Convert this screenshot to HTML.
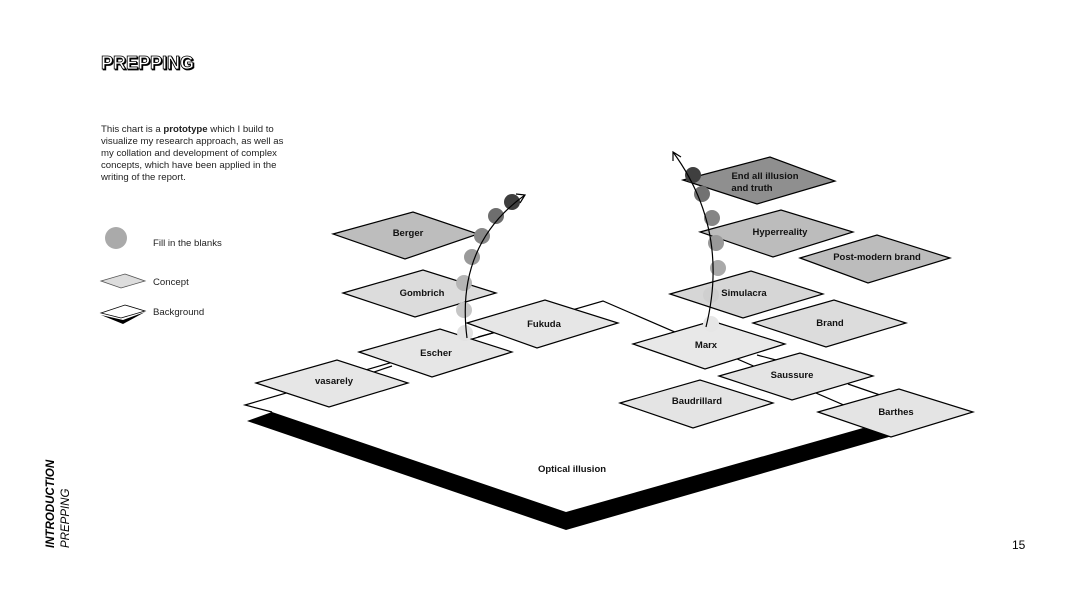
<!DOCTYPE html>
<html><head><meta charset="utf-8"><style>
html,body{margin:0;padding:0;background:#fff;}
body{width:1066px;height:600px;overflow:hidden;position:relative;font-family:"Liberation Sans",sans-serif;}
</style></head><body>
<svg width="1066" height="600" viewBox="0 0 1066 600" xmlns="http://www.w3.org/2000/svg" style="position:absolute;left:0;top:0">
<text x="101" y="69" font-family="Liberation Sans" font-weight="bold" font-size="18" fill="#000" stroke="#000" stroke-width="0.8" transform="translate(1,1)">PREPPING</text>
<text x="101" y="69" font-family="Liberation Sans" font-weight="bold" font-size="18" fill="#fff" stroke="#000" stroke-width="0.8">PREPPING</text>
<g font-family="Liberation Sans" font-size="9.6" fill="#222">
<text x="101" y="132">This chart is a <tspan font-weight="bold">prototype</tspan> which I build to</text>
<text x="101" y="144">visualize my research approach, as well as</text>
<text x="101" y="156">my collation and development of complex</text>
<text x="101" y="168">concepts, which have been applied in the</text>
<text x="101" y="180">writing of the report.</text>
<text x="153" y="246">Fill in the blanks</text>
<text x="153" y="285">Concept</text>
<text x="153" y="315">Background</text>
</g>
<circle cx="116" cy="238" r="11" fill="#aaa"/>
<polygon points="101,281 125,274 145,281 121,288" fill="#ddd" stroke="#555" stroke-width="0.8"/>
<polygon points="101,315 123,320 145,312 123,324" fill="#000"/>
<polygon points="101,313 125,305 145,311 121,318" fill="#fff" stroke="#000" stroke-width="0.8"/>

<!-- platform -->
<polygon points="245,405 603,301 890,425 566,512 272,412" fill="#fff"/>
<polyline points="272,412 245,405 603,301 890,425" fill="none" stroke="#000" stroke-width="1.2"/>
<polygon points="247,421 272,412 566,512 863,428 892,436 566,530" fill="#000"/>

<!-- connectors -->
<g stroke="#000" stroke-width="1.2">
<line x1="368" y1="374" x2="392" y2="366"/>
<line x1="478" y1="337" x2="500" y2="331"/>
<line x1="757" y1="355" x2="776" y2="360"/>
<line x1="848" y1="384" x2="880" y2="395"/>
</g>

<g stroke="#000" stroke-width="1.2">
<polygon points="333,234 413,212 478,234 405,259" fill="#bdbdbd"/>
<polygon points="343,293 423,270 496,293 415,317" fill="#dcdcdc"/>
<polygon points="467,323 545,300 618,323 537,348" fill="#e6e6e6"/>
<polygon points="359,352 440,329 512,352 432,377" fill="#e6e6e6"/>
<polygon points="256,383 337,360 408,383 329,407" fill="#e6e6e6"/>
<polygon points="683,180 770,157 835,181 757,204" fill="#8f8f8f"/>
<polygon points="700,232 781,210 853,232 773,257" fill="#bcbcbc"/>
<polygon points="800,258 877,235 950,258 868,283" fill="#bcbcbc"/>
<polygon points="670,294 751,271 823,294 743,318" fill="#d6d6d6"/>
<polygon points="753,323 834,300 906,323 826,347" fill="#dcdcdc"/>
<polygon points="633,344 712,321 785,344 705,369" fill="#e8e8e8"/>
<polygon points="719,376 800,353 873,376 792,400" fill="#e4e4e4"/>
<polygon points="620,403 700,380 773,403 693,428" fill="#e4e4e4"/>
<polygon points="818,412 899,389 973,412 891,437" fill="#e4e4e4"/>
</g>
<g font-family="Liberation Sans" font-weight="bold" font-size="9.5" fill="#111" text-anchor="middle">
<text x="408" y="236">Berger</text>
<text x="422" y="296">Gombrich</text>
<text x="544" y="327">Fukuda</text>
<text x="436" y="356">Escher</text>
<text x="334" y="384">vasarely</text>
<text x="765" y="179">End all illusion</text>
<text x="752" y="191">and truth</text>
<text x="780" y="235">Hyperreality</text>
<text x="877" y="260">Post-modern brand</text>
<text x="744" y="296">Simulacra</text>
<text x="830" y="326">Brand</text>
<text x="706" y="348">Marx</text>
<text x="792" y="378">Saussure</text>
<text x="697" y="404">Baudrillard</text>
<text x="896" y="415">Barthes</text>
<text x="572" y="472">Optical illusion</text>
</g>

<!-- left path -->
<circle cx="465" cy="333" r="8" fill="#e2e2e2"/>
<circle cx="464" cy="310" r="8" fill="#c6c6c6"/>
<circle cx="464" cy="283" r="8" fill="#b5b5b5"/>
<circle cx="472" cy="257" r="8" fill="#9a9a9a"/>
<circle cx="482" cy="236" r="8" fill="#888"/>
<circle cx="496" cy="216" r="8" fill="#6e6e6e"/>
<circle cx="512" cy="202" r="8" fill="#3e3e3e"/>
<path d="M467,338 Q455,245 525,195" fill="none" stroke="#000" stroke-width="1.2"/>
<path d="M516,194 L525,195 L520,203" fill="none" stroke="#000" stroke-width="1.2"/>

<!-- right path -->
<circle cx="711" cy="324" r="8" fill="#e6e6e6"/>
<circle cx="711" cy="295" r="8" fill="#cfcfcf"/>
<circle cx="718" cy="268" r="8" fill="#a9a9a9"/>
<circle cx="716" cy="243" r="8" fill="#999"/>
<circle cx="712" cy="218" r="8" fill="#858585"/>
<circle cx="702" cy="194" r="8" fill="#727272"/>
<circle cx="693" cy="175" r="8" fill="#3f3f3f"/>
<path d="M706,327 Q730,230 673,152" fill="none" stroke="#000" stroke-width="1.2"/>
<path d="M673,161 L673,152 L681,157" fill="none" stroke="#000" stroke-width="1.2"/>

<g font-family="Liberation Sans" font-size="11.5" fill="#000">
<text transform="translate(54,548) rotate(-90)" font-weight="bold" font-style="italic">INTRODUCTION</text>
<text transform="translate(69,548) rotate(-90)" font-style="italic">PREPPING</text>
</g>
<text x="1012" y="549" font-family="Liberation Sans" font-size="12" fill="#000">15</text>
</svg>
</body></html>
